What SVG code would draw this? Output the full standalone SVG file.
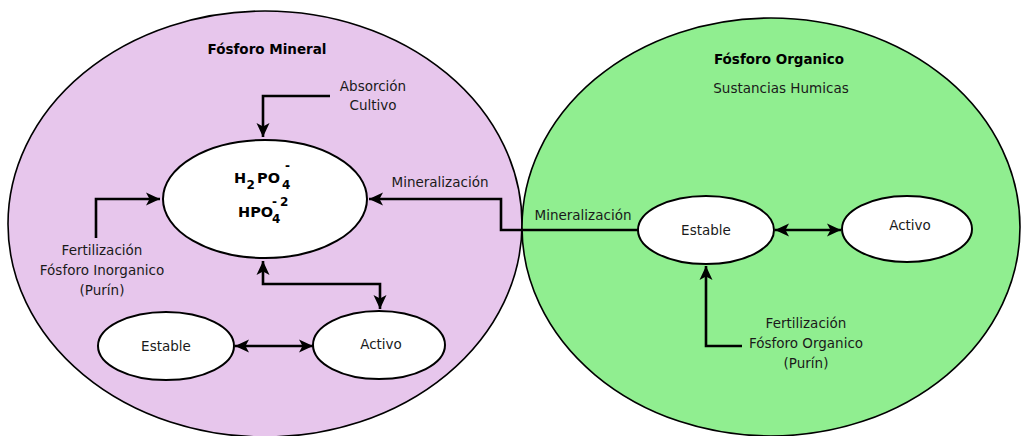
<svg xmlns="http://www.w3.org/2000/svg" width="1021" height="436" viewBox="0 0 1021 436">
<defs>
<marker id="ah" markerUnits="userSpaceOnUse" markerWidth="15" markerHeight="15" viewBox="0 0 15 15" refX="14" refY="7.5" orient="auto-start-reverse">
<path d="M0,1 L14,7.5 L0,14 L3.5,7.5 Z" fill="#000"/>
</marker>
</defs>
<style>
text{font-family:"DejaVu Sans",Verdana,sans-serif;font-size:13.5px;fill:#1a1a1a;text-anchor:middle}
.b{font-weight:bold;font-size:13.5px;fill:#000}
.f{font-weight:bold;font-size:14.5px;fill:#000;text-anchor:start}
.s{font-size:12px}
.big{stroke:#000;stroke-width:1.6}
.node{fill:#fff;stroke:#000;stroke-width:2}
.c{fill:none;stroke:#000;stroke-width:2.6}
</style>
<g id="mineral">
<ellipse class="big" cx="265" cy="224" rx="257" ry="213" fill="#e7c6ec"/>
<text class="b" x="267" y="54">Fósforo Mineral</text>
</g>
<g id="organico">
<ellipse class="big" cx="771" cy="227" rx="249" ry="209" fill="#90ee90"/>
<text class="b" x="779" y="64">Fósforo Organico</text>
<text x="781" y="93">Sustancias Humicas</text>
</g>
<g id="fosfato">
<ellipse class="node" cx="265" cy="199" rx="102" ry="59"/>
<text class="f" x="234" y="183">H</text>
<text class="f s" x="246.5" y="189">2</text>
<text class="f" x="257" y="183">PO</text>
<text class="f s" x="282" y="189">4</text>
<text class="f s" x="285" y="170">-</text>
<text class="f" x="238" y="217">HPO</text>
<text class="f s" x="272" y="223">4</text>
<text class="f s" x="272" y="206">-</text>
<text class="f s" x="280" y="206">2</text>
</g>
<g id="estable-mineral">
<ellipse class="node" cx="166" cy="346" rx="68" ry="34"/>
<text x="166" y="351">Estable</text>
</g>
<g id="activo-mineral">
<ellipse class="node" cx="379" cy="345" rx="66" ry="34"/>
<text x="381" y="349">Activo</text>
</g>
<g id="estable-organico">
<ellipse class="node" cx="706" cy="230" rx="68" ry="34"/>
<text x="706" y="235">Estable</text>
</g>
<g id="activo-organico">
<ellipse class="node" cx="907" cy="229" rx="65" ry="33"/>
<text x="910" y="230">Activo</text>
</g>
<g id="absorcion">
<text x="373" y="91">Absorción</text>
<text x="373" y="110">Cultivo</text>
</g>
<g id="fert-inorganico">
<text x="102" y="255">Fertilización</text>
<text x="102" y="275">Fósforo Inorganico</text>
<text x="102" y="295">(Purín)</text>
</g>
<g id="fert-organico">
<text x="806" y="328">Fertilización</text>
<text x="806" y="348">Fósforo Organico</text>
<text x="806" y="368">(Purín)</text>
</g>
<g id="connectors">
<path class="c" d="M330,96 H263 V137" marker-end="url(#ah)"/>
<path class="c" d="M96,238 V199 H160" marker-end="url(#ah)"/>
<path class="c" d="M638,230 H501 V199 H369" marker-end="url(#ah)"/>
<path class="c" d="M263,261 V284 H380 V309" marker-start="url(#ah)" marker-end="url(#ah)"/>
<path class="c" d="M235,346 H313" marker-start="url(#ah)" marker-end="url(#ah)"/>
<path class="c" d="M775,230 H841" marker-start="url(#ah)" marker-end="url(#ah)"/>
<path class="c" d="M742,346 H706 V266" marker-end="url(#ah)"/>
<text x="440" y="187">Mineralización</text>
<text x="583" y="220">Mineralización</text>
</g>
</svg>
